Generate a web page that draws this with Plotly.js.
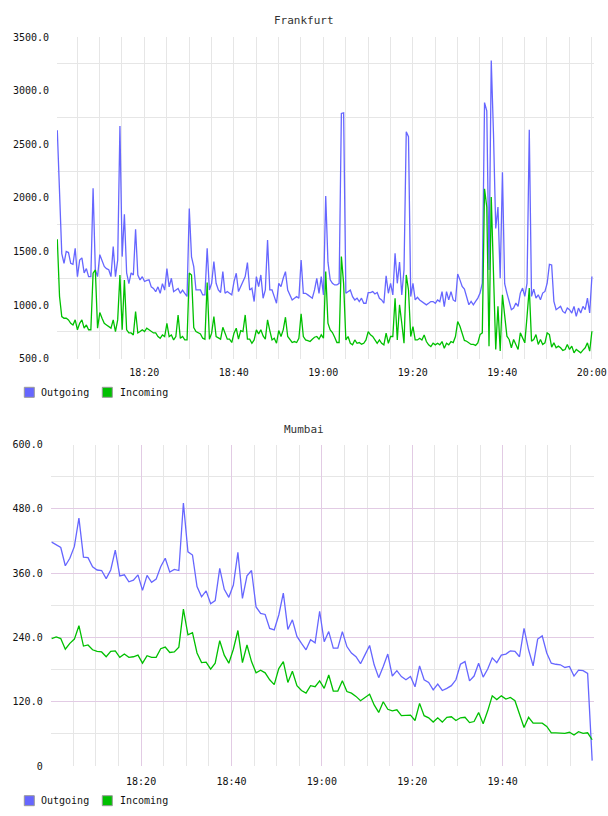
<!DOCTYPE html>
<html>
<head>
<meta charset="utf-8">
<script src="https://cdn.plot.ly/plotly-3.0.1.min.js"></script>
<style>
  html, body { margin: 0; padding: 0; background: #fff; }
  #chart { width: 608px; height: 816px; }
</style>
</head>
<body>
<div id="chart"></div>
<script>
// Series names and colours shared by both panels
const seriesNames = ['Outgoing', 'Incoming'];
const seriesColors = ['#6666ff', '#00c000'];

// Frankfurt: one sample every 30 s
const frankfurtTitle = 'Frankfurt';
const frankfurtStart = '2013-05-14T18:00:33Z';
const frankfurtStepSec = 30;
const frankfurtOutgoing = [
  2630, 2000, 1480, 1390, 1500, 1490, 1390, 1380, 1530, 1265,
  1420, 1440, 1300, 1340, 1265, 1265, 2090, 1330, 1265, 1470,
  1420, 1360, 1340, 1330, 1265, 1545, 1265, 1420, 2670, 1452,
  1846, 1300, 1200, 1300, 1280, 1707, 1280, 1235, 1265, 1220,
  1230, 1235, 1170, 1155, 1125, 1170, 1110, 1200, 1140, 1340,
  1170, 1250, 1125, 1140, 1155, 1110, 1140, 1110, 1080, 1900,
  1450, 1359, 1141, 1141, 1141, 1095, 1095, 1530, 1141, 1203,
  1405, 1203, 1141, 1117, 1312, 1110, 1126, 1110, 1095, 1219,
  1297, 1126, 1172, 1235, 1266, 1396, 1141, 1157, 1033, 1266,
  1172, 1281, 1064, 1141, 1607, 1141, 1141, 1079, 1017, 1203,
  1172, 1250, 1312, 1141, 1095, 1048, 1064, 1079, 1064, 1421,
  1110, 1110, 1095, 1079, 1064, 1141, 1250, 1110, 1266, 1095,
  2017, 1400, 1235, 1203, 1188, 1188, 1203, 2787, 2793, 1110,
  1126, 1141, 1079, 1048, 1064, 1033, 1064, 1017, 1017, 1117,
  1117, 1126, 1104, 1117, 1064, 1048, 1017, 1272, 1110, 1203,
  1095, 1483, 1203, 1402, 1095, 1328, 2617, 2570, 1079, 1203,
  1048, 1073, 1048, 1033, 1017, 1002, 1017, 1033, 1033, 1017,
  1048, 1033, 1126, 986, 1126, 1048, 1126, 1048, 1033, 1290,
  1235, 1173, 1150, 1081, 1003, 1034, 1003, 1034, 1065, 1112,
  1204, 2888, 2811, 1328, 3281, 2595, 1714, 1915, 1250, 2239,
  1200, 1112, 1019, 957, 972, 1019, 988, 1112, 1158, 1081,
  1204, 2635, 1081, 1149, 1065, 1096, 1050, 1112, 1127, 1204,
  1380, 1374, 1034, 957, 972, 988, 941, 926, 972, 957,
  926, 988, 895, 972, 926, 988, 957, 1065, 926, 1266
];
const frankfurtIncoming = [
  1613, 1080, 893, 877, 877, 862, 830, 815, 862, 770,
  830, 862, 785, 815, 770, 770, 1297, 1328, 785, 930,
  877, 830, 815, 800, 785, 862, 753, 862, 1281, 770,
  1234, 770, 740, 740, 722, 940, 740, 753, 770, 753,
  785, 770, 753, 740, 740, 707, 690, 722, 707, 830,
  707, 722, 675, 707, 908, 690, 707, 675, 675, 1300,
  1280, 790, 753, 744, 731, 691, 682, 1210, 682, 738,
  893, 707, 691, 682, 793, 738, 682, 682, 651, 738,
  784, 682, 762, 753, 908, 682, 682, 644, 675, 769,
  731, 769, 713, 682, 862, 762, 675, 691, 644, 762,
  707, 769, 887, 707, 682, 651, 660, 651, 691, 918,
  707, 675, 669, 660, 682, 700, 707, 682, 722, 691,
  1312, 831, 769, 744, 700, 651, 651, 1452, 1200, 675,
  707, 644, 629, 675, 644, 651, 635, 644, 675, 753,
  722, 707, 675, 644, 675, 644, 629, 738, 644, 707,
  707, 1064, 675, 1002, 831, 644, 1281, 1141, 707, 800,
  675, 675, 691, 675, 722, 660, 629, 613, 644, 629,
  644, 629, 660, 598, 644, 629, 660, 651, 707, 846,
  803, 740, 670, 663, 648, 633, 633, 624, 648, 725,
  741, 2085, 1915, 617, 2008, 1204, 586, 988, 571, 1096,
  895, 710, 679, 602, 679, 633, 586, 741, 694, 648,
  895, 1158, 664, 679, 725, 633, 679, 633, 648, 741,
  725, 608, 648, 602, 617, 602, 577, 586, 633, 586,
  617, 555, 586, 571, 555, 580, 602, 648, 571, 756
];

// Mumbai: one sample roughly every minute
const mumbaiTitle = 'Mumbai';
const mumbaiStart = '2013-05-14T18:00:13Z';
const mumbaiStepSec = 60.3;
const mumbaiOutgoing = [
  418, 413, 408, 374, 388, 410, 463, 390, 389, 372,
  366, 365, 350, 366, 403, 355, 357, 344, 347, 357,
  328, 356, 343, 349, 372, 388, 362, 367, 365, 491,
  400, 394, 335, 316, 327, 303, 309, 369, 330, 315,
  338, 399, 313, 355, 365, 297, 285, 283, 257, 254,
  282, 323, 255, 273, 242, 229, 217, 236, 230, 289,
  232, 251, 220, 220, 251, 223, 211, 204, 191, 208,
  225, 189, 165, 186, 209, 168, 178, 167, 161, 167,
  148, 187, 161, 156, 142, 153, 141, 145, 150, 161,
  190, 195, 159, 168, 192, 166, 181, 202, 193, 207,
  209, 215, 214, 204, 257, 217, 187, 237, 243, 211,
  192, 190, 189, 184, 186, 168, 179, 178, 173, 10
];
const mumbaiIncoming = [
  238, 241, 238, 218, 229, 237, 262, 224, 226, 217,
  214, 213, 204, 214, 215, 203, 209, 203, 204, 207,
  192, 206, 203, 203, 219, 222, 212, 213, 222, 293,
  245, 249, 211, 193, 194, 181, 192, 234, 207, 192,
  218, 253, 193, 226, 195, 174, 179, 174, 161, 152,
  182, 195, 156, 177, 150, 141, 136, 150, 148, 159,
  145, 170, 140, 140, 159, 139, 136, 130, 122, 128,
  134, 114, 100, 120, 106, 103, 105, 94, 94, 95,
  85, 117, 94, 90, 82, 90, 82, 91, 92, 85,
  90, 91, 81, 83, 100, 79, 103, 131, 124, 131,
  125, 128, 122, 95, 72, 91, 80, 80, 80, 74,
  62, 62, 62, 61, 63, 58, 64, 61, 62, 49
];

// Axis ticks
const day = '2013-05-14';
const frankfurtXTicks = ['18:20', '18:40', '19:00', '19:20', '19:40', '20:00'];
const frankfurtXLabels = ['18:20', '18:40', '19:00', '19:20', '19:40', '20:00'];
const frankfurtYTicks = [500, 1000, 1500, 2000, 2500, 3000, 3500];
const frankfurtYLabels = ['500.0', '1000.0', '1500.0', '2000.0', '2500.0', '3000.0', '3500.0'];
const frankfurtYGrid = [750, 1250, 1750, 2250, 2750, 3250];
const mumbaiXTicks = ['18:00', '18:20', '18:40', '19:00', '19:20', '19:40', '20:00'];
const mumbaiXLabels = ['', '18:20', '18:40', '19:00', '19:20', '19:40', ''];
const mumbaiYTicks = [0, 120, 240, 360, 480, 600];
const mumbaiYLabels = ['0', '120.0', '240.0', '360.0', '480.0', '600.0'];
const mumbaiYMinor = [60, 180, 300, 420, 540];

// ---- helpers ----
const W = 608, H = 816;
const px = v => v / W;           // pixel x -> paper
const py = v => 1 - v / H;       // pixel y -> paper
function fmt(ms) { return new Date(ms).toISOString().replace('T', ' ').replace('Z', ''); }
function timeline(startIso, stepSec, n) {
  const t0 = Date.parse(startIso);
  const out = [];
  for (let i = 0; i < n; i++) out.push(fmt(t0 + i * stepSec * 1000));
  return out;
}
const at = hm => day + ' ' + hm;

const fontMono = 'DejaVu Sans Mono';
const gridGray = '#e6e6e6';
const gridPurple = '#e2cbe4';

const fT = timeline(frankfurtStart, frankfurtStepSec, frankfurtOutgoing.length);
const mT = timeline(mumbaiStart, mumbaiStepSec, mumbaiOutgoing.length);

const traces = [];
[frankfurtOutgoing, frankfurtIncoming].forEach((ys, k) => traces.push({
  type: 'scatter', mode: 'lines', x: fT, y: ys, name: seriesNames[k],
  xaxis: 'x', yaxis: 'y', showlegend: false, hoverinfo: 'skip',
  line: { color: seriesColors[k], width: 1.3 }
}));
[mumbaiOutgoing, mumbaiIncoming].forEach((ys, k) => traces.push({
  type: 'scatter', mode: 'lines', x: mT, y: ys, name: seriesNames[k],
  xaxis: 'x2', yaxis: 'y2', showlegend: false, hoverinfo: 'skip',
  line: { color: seriesColors[k], width: 1.3 }
}));

const tickFont = { family: fontMono, size: 10, color: '#111' };

// Legend drawn under each panel: swatch + label
const shapes = [];
const annotations = [];
function legendRow(cy) {
  const swatchX = [24.3, 102.3];
  const textX = [39, 118];
  seriesNames.forEach((name, k) => {
    shapes.push({
      type: 'rect', xref: 'paper', yref: 'paper',
      x0: px(swatchX[k]), x1: px(swatchX[k] + 10),
      y0: py(cy + 5), y1: py(cy - 5),
      fillcolor: seriesColors[k], line: { color: '#999', width: 1 }
    });
    annotations.push({
      xref: 'paper', yref: 'paper', x: px(textX[k]), y: py(cy),
      xanchor: 'left', yanchor: 'middle', showarrow: false, text: name,
      font: { family: fontMono, size: 10, color: '#111' }
    });
  });
}
legendRow(392.3);
legendRow(800.7);

[[frankfurtTitle, 20], [mumbaiTitle, 429]].forEach(([t, y]) => annotations.push({
  xref: 'paper', yref: 'paper', x: px(304), y: py(y), xanchor: 'center', yanchor: 'middle',
  showarrow: false, text: t, font: { family: fontMono, size: 11, color: '#333' }
}));

const layout = {
  width: W, height: H,
  margin: { l: 0, r: 0, t: 0, b: 0 },
  paper_bgcolor: '#fff', plot_bgcolor: '#fff',
  showlegend: false,
  font: { family: fontMono, size: 10, color: '#111' },
  xaxis: {
    type: 'date', domain: [px(57), px(594)], anchor: 'y',
    range: [at('18:00:29'), at('20:00:31')],
    tickmode: 'array', tickvals: frankfurtXTicks.map(at), ticktext: frankfurtXLabels,
    showgrid: true, gridcolor: gridGray, gridwidth: 1,
    minor: { dtick: 300000, tick0: at('18:00'), showgrid: true, gridcolor: gridGray, gridwidth: 1 },
    zeroline: false, showline: false, ticks: '', tickfont: tickFont, ticklabelstandoff: 6
  },
  yaxis: {
    domain: [py(358.7), py(37)], anchor: 'x', range: [500, 3500],
    tickmode: 'array', tickvals: frankfurtYTicks, ticktext: frankfurtYLabels,
    showgrid: false,
    minor: { tickmode: 'array', tickvals: frankfurtYGrid, showgrid: true, gridcolor: gridGray, gridwidth: 1 },
    zeroline: false, showline: false, ticks: '', tickfont: tickFont, ticklabelstandoff: 7
  },
  xaxis2: {
    type: 'date', domain: [px(50.7), px(594)], anchor: 'y2',
    range: [at('18:00:00'), at('20:00:13')],
    tickmode: 'array', tickvals: mumbaiXTicks.map(at), ticktext: mumbaiXLabels,
    showgrid: true, gridcolor: gridPurple, gridwidth: 1,
    minor: { dtick: 300000, tick0: at('18:00'), showgrid: true, gridcolor: gridGray, gridwidth: 1 },
    zeroline: false, showline: false, ticks: '', tickfont: tickFont, ticklabelstandoff: 8
  },
  yaxis2: {
    domain: [py(766), py(444.7)], anchor: 'x2', range: [0, 600],
    tickmode: 'array', tickvals: mumbaiYTicks, ticktext: mumbaiYLabels,
    showgrid: true, gridcolor: gridPurple, gridwidth: 1,
    minor: { tickmode: 'array', tickvals: mumbaiYMinor, showgrid: true, gridcolor: gridGray, gridwidth: 1 },
    zeroline: false, showline: false, ticks: '', tickfont: tickFont, ticklabelstandoff: 7
  },
  shapes: shapes,
  annotations: annotations
};

Plotly.newPlot('chart', traces, layout, { displayModeBar: false, staticPlot: true });
</script>
</body>
</html>
